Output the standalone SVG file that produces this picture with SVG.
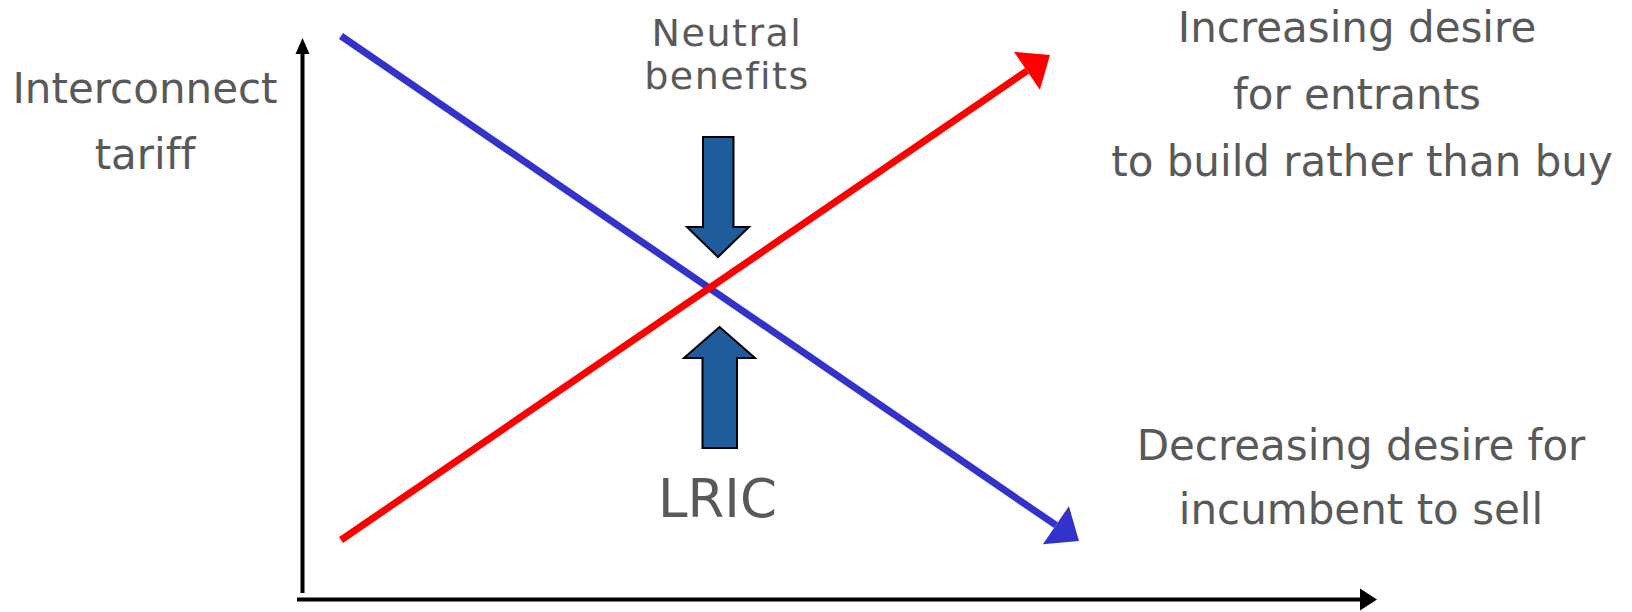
<svg xmlns="http://www.w3.org/2000/svg" width="1632" height="612" viewBox="0 0 1632 612">
<style>
.t{font-family:"DejaVu Sans","Liberation Sans",sans-serif;font-size:42px;fill:#595959;text-anchor:middle;font-variant-ligatures:none}
.s{font-size:38px;letter-spacing:1.5px}
.blk{fill:#1f5c9c;stroke:#000;stroke-width:2;stroke-linejoin:miter}
.ax{stroke:#000;stroke-width:4;fill:none}
</style>
<defs>
<marker id="mBlue" markerUnits="userSpaceOnUse" orient="auto" markerWidth="30" markerHeight="48" refX="0" refY="23" viewBox="0 0 30 46" overflow="visible">
<path d="M0,0 L28,23 L0,46 Z" fill="#3333cc"/>
</marker>
<marker id="mRed" markerUnits="userSpaceOnUse" orient="auto" markerWidth="30" markerHeight="48" refX="0" refY="23" viewBox="0 0 30 46" overflow="visible">
<path d="M0,0 L28,23 L0,46 Z" fill="#ff0000"/>
</marker>
</defs>
<g id="axes">
<line class="ax" x1="302.5" y1="593" x2="302.5" y2="52"/>
<polygon points="302.5,38 295.5,54 309.5,54" fill="#000"/>
<line class="ax" x1="297" y1="599.5" x2="1361" y2="599.5"/>
<polygon points="1377,599.5 1360,588.5 1360,610.5" fill="#000"/>
</g>
<g id="connectors">
<line x1="341" y1="36" x2="1055.9" y2="525.2" stroke="#3333cc" stroke-width="7" marker-end="url(#mBlue)"/>
<line x1="341" y1="540" x2="1026.9" y2="70.8" stroke="#ff0000" stroke-width="7" marker-end="url(#mRed)"/>
</g>
<g id="down-arrow">
<polygon class="blk" points="703,137 733.5,137 733.5,227 749,227 718,257 687,227 703,227"/>
</g>
<g id="up-arrow">
<polygon class="blk" points="719.5,327 755,358 737,358 737,448 702.5,448 702.5,358 684,358"/>
</g>
<g id="y-label">
<text class="t" x="145" y="103">Interconnect</text>
<text class="t" x="145" y="169">tariff</text>
</g>
<g id="neutral">
<text class="t s" x="727" y="46">Neutral</text>
<text class="t s" x="727" y="89">benefits</text>
</g>
<g id="lric">
<text class="t" x="717.5" y="517" style="font-size:53px">LRIC</text>
</g>
<g id="increasing">
<text class="t" x="1357" y="42">Increasing desire</text>
<text class="t" x="1357" y="109">for entrants</text>
<text class="t" x="1362" y="176">to build rather than buy</text>
</g>
<g id="decreasing">
<text class="t" x="1361" y="460">Decreasing desire for</text>
<text class="t" x="1361" y="524">incumbent to sell</text>
</g>
</svg>
